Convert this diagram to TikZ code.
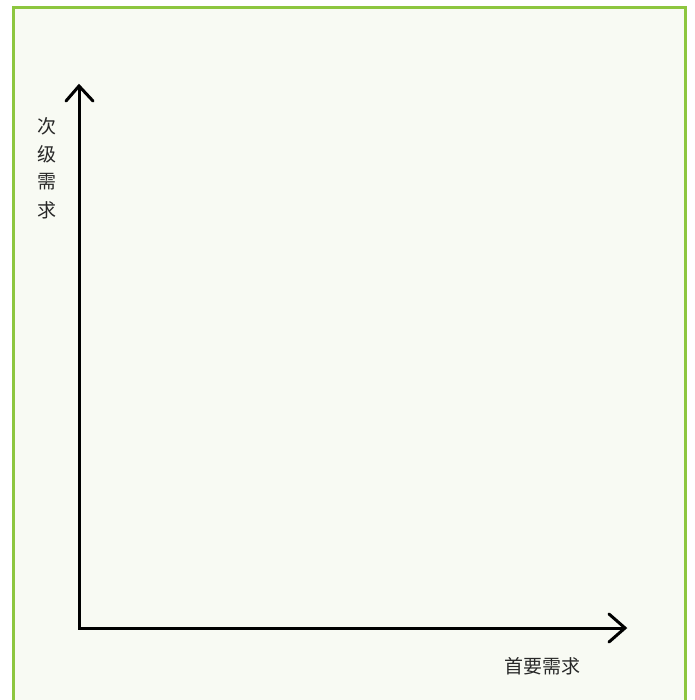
\documentclass[tikz,border=0pt]{standalone}
\usepackage{fontspec}
\newfontfamily\cjk{Noto Sans CJK SC}
\definecolor{frame}{RGB}{141,198,63}
\definecolor{paper}{RGB}{248,250,243}
\definecolor{ink}{RGB}{40,40,40}
\begin{document}
\begin{tikzpicture}[x=1pt,y=-1pt,
  axis/.style={line width=3pt,black},
  chev/.style={line width=3pt,black,line cap=round,line join=miter},
  lbl/.style={font=\cjk\fontsize{19}{21}\selectfont,text=ink,inner sep=0pt}]
\useasboundingbox (0,0) rectangle (694,700);
\fill[white] (0,0) rectangle (694,700);
\draw[frame,line width=3pt,fill=paper] (13,8) rectangle (685,712);
\coordinate (O) at (79,628);
\coordinate (Ytip) at (79,86);
\coordinate (Xtip) at (625,628);
\draw[axis] (Ytip) -- (O) -- (Xtip);
\draw[chev] (66,101) -- (Ytip) -- (93,101);
\draw[chev] (609,614) -- (Xtip) -- (609,642);
\node[lbl] (y1) at (47,126) {次};
\node[lbl] (y2) at (47,154) {级};
\node[lbl] (y3) at (47,182) {需};
\node[lbl] (y4) at (47,210) {求};
\node[lbl] (xl) at (542,666) {首要需求};
\end{tikzpicture}
\end{document}
